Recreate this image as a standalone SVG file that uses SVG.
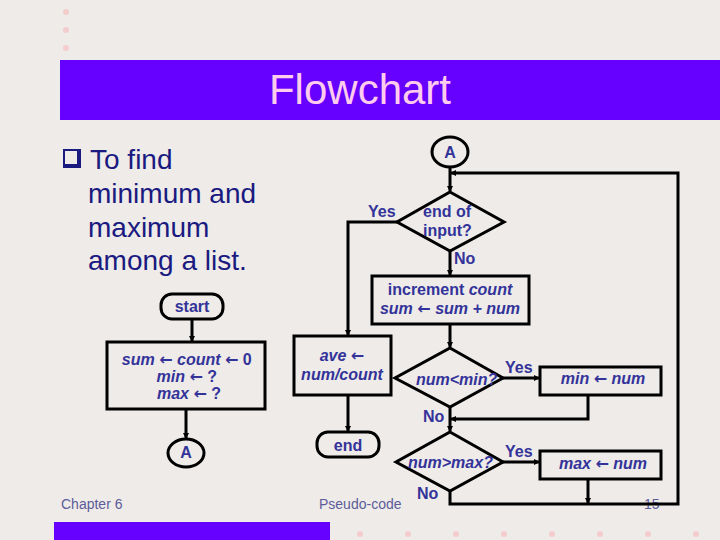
<svg xmlns="http://www.w3.org/2000/svg" width="720" height="540" viewBox="0 0 720 540">
<style>
.fc{font-family:"Liberation Sans",Arial,sans-serif;font-weight:bold;font-size:16px;fill:#333399}
.it{font-style:italic}
.ar{font-family:"DejaVu Sans",sans-serif;font-style:normal;font-weight:bold}
.shape{fill:none;stroke:#000;stroke-width:3}
.conn{fill:none;stroke:#000;stroke-width:3}
.foot{font-family:"Liberation Sans",Arial,sans-serif;font-size:14px;fill:#5c5c99}
.dot{fill:#f3cccc}
</style>
<defs>
<marker id="ah" viewBox="0 0 6 6" refX="5" refY="3" markerWidth="6" markerHeight="6" markerUnits="userSpaceOnUse" orient="auto">
<path d="M0,0 L6,3 L0,6 Z" fill="#000"/>
</marker>
</defs>
<rect width="720" height="540" fill="#eeebe9"/>
<g id="decor">
<circle class="dot" cx="66" cy="12" r="3"/>
<circle class="dot" cx="66" cy="30" r="3"/>
<circle class="dot" cx="66" cy="48" r="3"/>
<circle class="dot" cx="360" cy="534" r="3"/>
<circle class="dot" cx="408" cy="534" r="3"/>
<circle class="dot" cx="456" cy="534" r="3"/>
<circle class="dot" cx="504" cy="534" r="3"/>
<circle class="dot" cx="552" cy="534" r="3"/>
<circle class="dot" cx="600" cy="534" r="3"/>
<circle class="dot" cx="648" cy="534" r="3"/>
<circle class="dot" cx="696" cy="534" r="3"/>
<rect x="60" y="60" width="660" height="60" fill="#6600ff"/>
<rect x="54" y="522" width="276" height="18" fill="#6600ff"/>
</g>
<text x="360" y="104" text-anchor="middle" font-family="Liberation Sans,Arial,sans-serif" font-size="42" fill="#ffccee">Flowchart</text>
<g id="bullet">
<rect x="63" y="149" width="18" height="19" fill="#1a1a80"/>
<rect x="65" y="151" width="12" height="13" fill="#eeebe9"/>
<text font-family="Liberation Sans,Arial,sans-serif" font-size="28" fill="#1a1a80">
<tspan x="90" y="169">To find</tspan>
<tspan x="88" y="203">minimum and</tspan>
<tspan x="88" y="237">maximum</tspan>
<tspan x="88" y="270">among a list.</tspan>
</text>
</g>
<text class="foot" x="61" y="509">Chapter 6</text>
<text class="foot" x="319" y="509">Pseudo-code</text>
<text class="foot" x="644" y="509">15</text>
<g id="connectors">
<path class="conn" d="M192,319 V341" marker-end="url(#ah)"/>
<path class="conn" d="M186,409 V438" marker-end="url(#ah)"/>
<path class="conn" d="M450,167 V191" marker-end="url(#ah)"/>
<path class="conn" d="M397,222 H348 V335" marker-end="url(#ah)"/>
<path class="conn" d="M450,251 V275" marker-end="url(#ah)"/>
<path class="conn" d="M450,324 V347" marker-end="url(#ah)"/>
<path class="conn" d="M503,378 H539" marker-end="url(#ah)"/>
<path class="conn" d="M588,394 V419 H451" marker-end="url(#ah)"/>
<path class="conn" d="M450,407 V431" marker-end="url(#ah)"/>
<path class="conn" d="M503,462 H539" marker-end="url(#ah)"/>
<path class="conn" d="M588,479 V503" marker-end="url(#ah)"/>
<path class="conn" d="M450,491 V504 H678 V173 H451" marker-end="url(#ah)"/>
<path class="conn" d="M348,395 V431" marker-end="url(#ah)"/>
</g>
<g id="start">
<rect class="shape" x="161" y="294" width="62" height="25" rx="11"/>
<text class="fc" x="192" y="312" text-anchor="middle">start</text>
</g>
<g id="init">
<rect class="shape" x="107" y="342" width="158" height="67"/>
<text class="fc" text-anchor="middle">
<tspan x="189" y="365"><tspan class="it">sum</tspan> <tspan class="ar">←</tspan> <tspan class="it">count</tspan> <tspan class="ar">←</tspan> 0</tspan>
<tspan x="189" y="382"><tspan class="it">min</tspan> <tspan class="ar">←</tspan> ?</tspan>
<tspan x="189" y="399"><tspan class="it">max</tspan> <tspan class="ar">←</tspan> ?</tspan>
</text>
</g>
<g id="connA1">
<ellipse class="shape" cx="186" cy="453" rx="18" ry="14"/>
<text class="fc" x="186" y="458" text-anchor="middle">A</text>
</g>
<g id="connA2">
<ellipse class="shape" cx="450" cy="152" rx="18" ry="15"/>
<text class="fc" x="450" y="158" text-anchor="middle">A</text>
</g>
<g id="endInput">
<polygon class="shape" points="450,192 504,222 450,251 397,222"/>
<text class="fc"><tspan x="423" y="217">end of</tspan><tspan x="423" y="236">input?</tspan></text>
<text class="fc" x="368" y="217">Yes</text>
<text class="fc" x="454" y="264">No</text>
</g>
<g id="increment">
<rect class="shape" x="372" y="276" width="157" height="48"/>
<text class="fc" text-anchor="middle"><tspan x="450" y="295">increment <tspan class="it">count</tspan></tspan><tspan class="it" x="450" y="314">sum <tspan class="ar">←</tspan> sum + num</tspan></text>
</g>
<g id="ave">
<rect class="shape" x="294" y="336" width="97" height="59"/>
<text class="fc it" text-anchor="middle"><tspan x="342" y="361">ave <tspan class="ar">←</tspan></tspan><tspan x="342" y="380">num/count</tspan></text>
</g>
<g id="end">
<rect class="shape" x="317" y="432" width="62" height="25" rx="11"/>
<text class="fc" x="348" y="451" text-anchor="middle">end</text>
</g>
<g id="minTest">
<polygon class="shape" points="450,348 503,378 450,407 395,378"/>
<text class="fc it" x="416" y="385">num&lt;min?</text>
<text class="fc" x="505" y="373">Yes</text>
<text class="fc" x="423" y="422">No</text>
</g>
<g id="minSet">
<rect class="shape" x="540" y="367" width="121" height="28"/>
<text class="fc it" x="603" y="384" text-anchor="middle">min <tspan class="ar">←</tspan> num</text>
</g>
<g id="maxTest">
<polygon class="shape" points="450,432 503,462 450,491 396,462"/>
<text class="fc it" x="408" y="468">num&gt;max?</text>
<text class="fc" x="505" y="457">Yes</text>
<text class="fc" x="417" y="499">No</text>
</g>
<g id="maxSet">
<rect class="shape" x="540" y="451" width="121" height="28"/>
<text class="fc it" x="603" y="469" text-anchor="middle">max <tspan class="ar">←</tspan> num</text>
</g>
</svg>
